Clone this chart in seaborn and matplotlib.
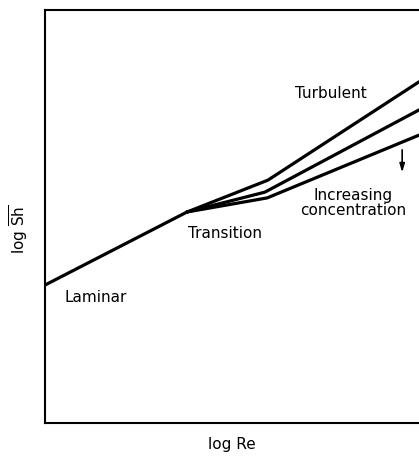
import numpy as np
import pandas as pd
import matplotlib
matplotlib.use('Agg')
import matplotlib.pyplot as plt
import seaborn as sns

#%% Data (schematic log-log values)

re_laminar = [0.0, 3.80]
sh_laminar = [3.34, 5.11]

re_top = [3.80, 5.96, 10.0]
sh_top = [5.11, 5.88, 8.26]

re_mid = [3.80, 5.88, 10.0]
sh_mid = [5.11, 5.59, 7.58]

re_low = [3.80, 5.94, 10.0]
sh_low = [5.11, 5.45, 6.97]

df = pd.concat([
    pd.DataFrame({'logRe': re_laminar, 'logSh': sh_laminar, 'curve': 'laminar'}),
    pd.DataFrame({'logRe': re_top, 'logSh': sh_top, 'curve': 'c0'}),
    pd.DataFrame({'logRe': re_mid, 'logSh': sh_mid, 'curve': 'c1'}),
    pd.DataFrame({'logRe': re_low, 'logSh': sh_low, 'curve': 'c2'}),
])

#%% Plot

sns.set_style('white')
plt.rcParams['font.family'] = ['DejaVu Sans']
plt.rcParams['mathtext.fontset'] = 'dejavusans'
plt.rcParams['text.color'] = 'black'
plt.rcParams['axes.labelcolor'] = 'black'

fig = plt.figure(figsize=(4.19, 4.57), dpi=100)
ax = fig.add_axes([45/419, 34/457, 374/419, 413/457])

sns.lineplot(data=df, x='logRe', y='logSh', units='curve', estimator=None,
             color='black', lw=2.3, sort=False, ax=ax, legend=False)

ax.set_xlim(0, 10)
ax.set_ylim(0, 10)
ax.set_xticks([])
ax.set_yticks([])
for s in ['left', 'bottom', 'top']:
    ax.spines[s].set_color('black')
    ax.spines[s].set_linewidth(1.5)
ax.spines['right'].set_visible(False)

fs = 11
ax.text(7.65, 7.99, 'Turbulent', ha='center', va='center', fontsize=fs)
ax.text(8.25, 5.33, 'Increasing\nconcentration', ha='center', va='center',
        fontsize=fs, linespacing=1.0)
ax.text(3.82, 4.58, 'Transition', ha='left', va='center', fontsize=fs)
ax.text(0.53, 3.03, 'Laminar', ha='left', va='center', fontsize=fs)

ax.annotate('', xy=(9.55, 6.0), xytext=(9.55, 6.68),
            arrowprops=dict(arrowstyle='-|>,head_length=0.5,head_width=0.15',
                            color='black', lw=1.2))

ax.set_xlabel('log Re', fontsize=fs, labelpad=10)
ax.set_ylabel(r'log $\overline{\mathsf{Sh}}$', fontsize=fs)
ax.yaxis.set_label_coords(-0.04, 0.47)

fig.savefig('out.png', dpi=100)
